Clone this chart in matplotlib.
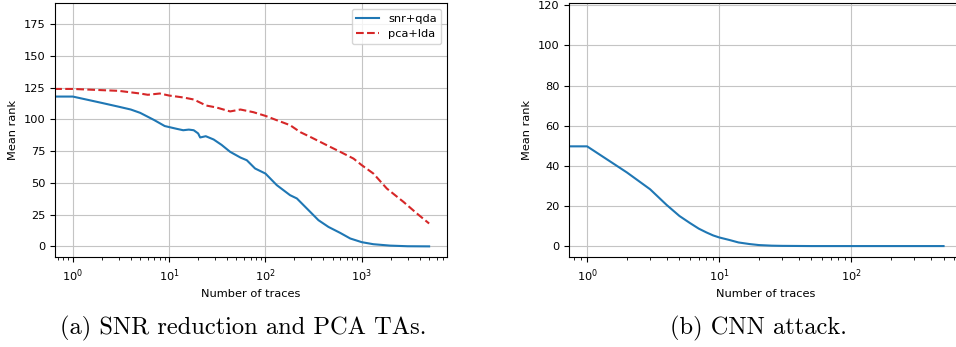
import numpy as np
import matplotlib
matplotlib.use('Agg')
import matplotlib.pyplot as plt

# (a) SNR reduction + QDA, PCA + LDA
snr_traces = [0, 1, 2, 3, 4, 5, 7, 9, 12, 14, 16, 18, 20, 21, 24, 29, 35, 43, 55, 64,
              78, 100, 131, 180, 212, 291, 355, 451, 597, 759, 1000, 1320, 1970, 3000, 5000]
snr_rank = [118, 118, 113, 110, 107.8, 105.2, 99.5, 94.8, 92.6, 91.5, 92, 91.5, 89, 85.8,
            86.8, 84.2, 80, 74.5, 70, 67.9, 61.4, 57.4, 48.3, 40.4, 37.8, 27.3, 20.7, 15.4,
            10.7, 6.3, 3.4, 1.8, 0.7, 0.2, 0.1]

pca_traces = [0, 1, 3, 5, 6, 8, 10, 14, 18, 22, 24, 31, 43, 55, 75, 100, 131, 180, 230,
              291, 434, 597, 820, 1000, 1320, 1820, 2710, 3730, 5000]
pca_rank = [124, 124, 122.5, 120.4, 119.4, 120.4, 118.8, 117.3, 115.7, 112.5, 111, 109.4,
            106.3, 107.8, 105.7, 102.8, 99.4, 95.5, 90, 86.3, 79.7, 74.5, 69.2, 64, 57.4,
            45.6, 35.1, 26, 18.1]

# (b) CNN attack
cnn_traces = [0, 1, 2, 3, 4, 5, 6, 7, 8, 9, 10, 12, 14, 17, 20, 25, 30, 50, 100, 500]
cnn_rank = [49.7, 49.7, 36.7, 28.3, 20.5, 15, 11.5, 8.7, 6.8, 5.3, 4.3, 3, 1.8, 1.0, 0.5,
            0.2, 0.1, 0, 0, 0]

captions = ['(a) SNR reduction and PCA TAs.', '(b) CNN attack.']

plt.rcParams['font.size'] = 8.2
plt.rcParams['grid.color'] = '#c4c4c4'

fig = plt.figure(figsize=(9.56, 3.47), dpi=100)
ax1 = fig.add_axes([0.0575, 0.2585, 0.410, 0.732])
ax2 = fig.add_axes([0.5955, 0.2585, 0.4101, 0.732])

ax1.plot(snr_traces, snr_rank, color='tab:blue', lw=1.5, label='snr+qda')
ax1.plot(pca_traces, pca_rank, color='tab:red', lw=1.5, ls='--', label='pca+lda')
ax1.set_xscale('log')
ax1.set_xlim(0.653, 7654)
ax1.set_ylim(-8.5, 191.4)
ax1.set_yticks([0, 25, 50, 75, 100, 125, 150, 175])
ax1.grid(True)
ax1.legend(loc='upper right')
ax1.set_xlabel('Number of traces')
ax1.set_ylabel('Mean rank')

ax2.plot(cnn_traces, cnn_rank, color='tab:blue', lw=1.5)
ax2.set_xscale('log')
ax2.set_xlim(0.733, 682)
ax2.set_ylim(-5.6, 121)
ax2.set_yticks([0, 20, 40, 60, 80, 100, 120])
ax2.grid(True)
ax2.set_xlabel('Number of traces')
ax2.set_ylabel('Mean rank')

fig.text(243.5 / 956, 1 - 328 / 347, captions[0], family='cmr10', fontsize=17.6,
         ha='center', va='center')
fig.text(758 / 956, 1 - 328 / 347, captions[1], family='cmr10', fontsize=17.6,
         ha='center', va='center')

fig.savefig('out.png', dpi=100)
